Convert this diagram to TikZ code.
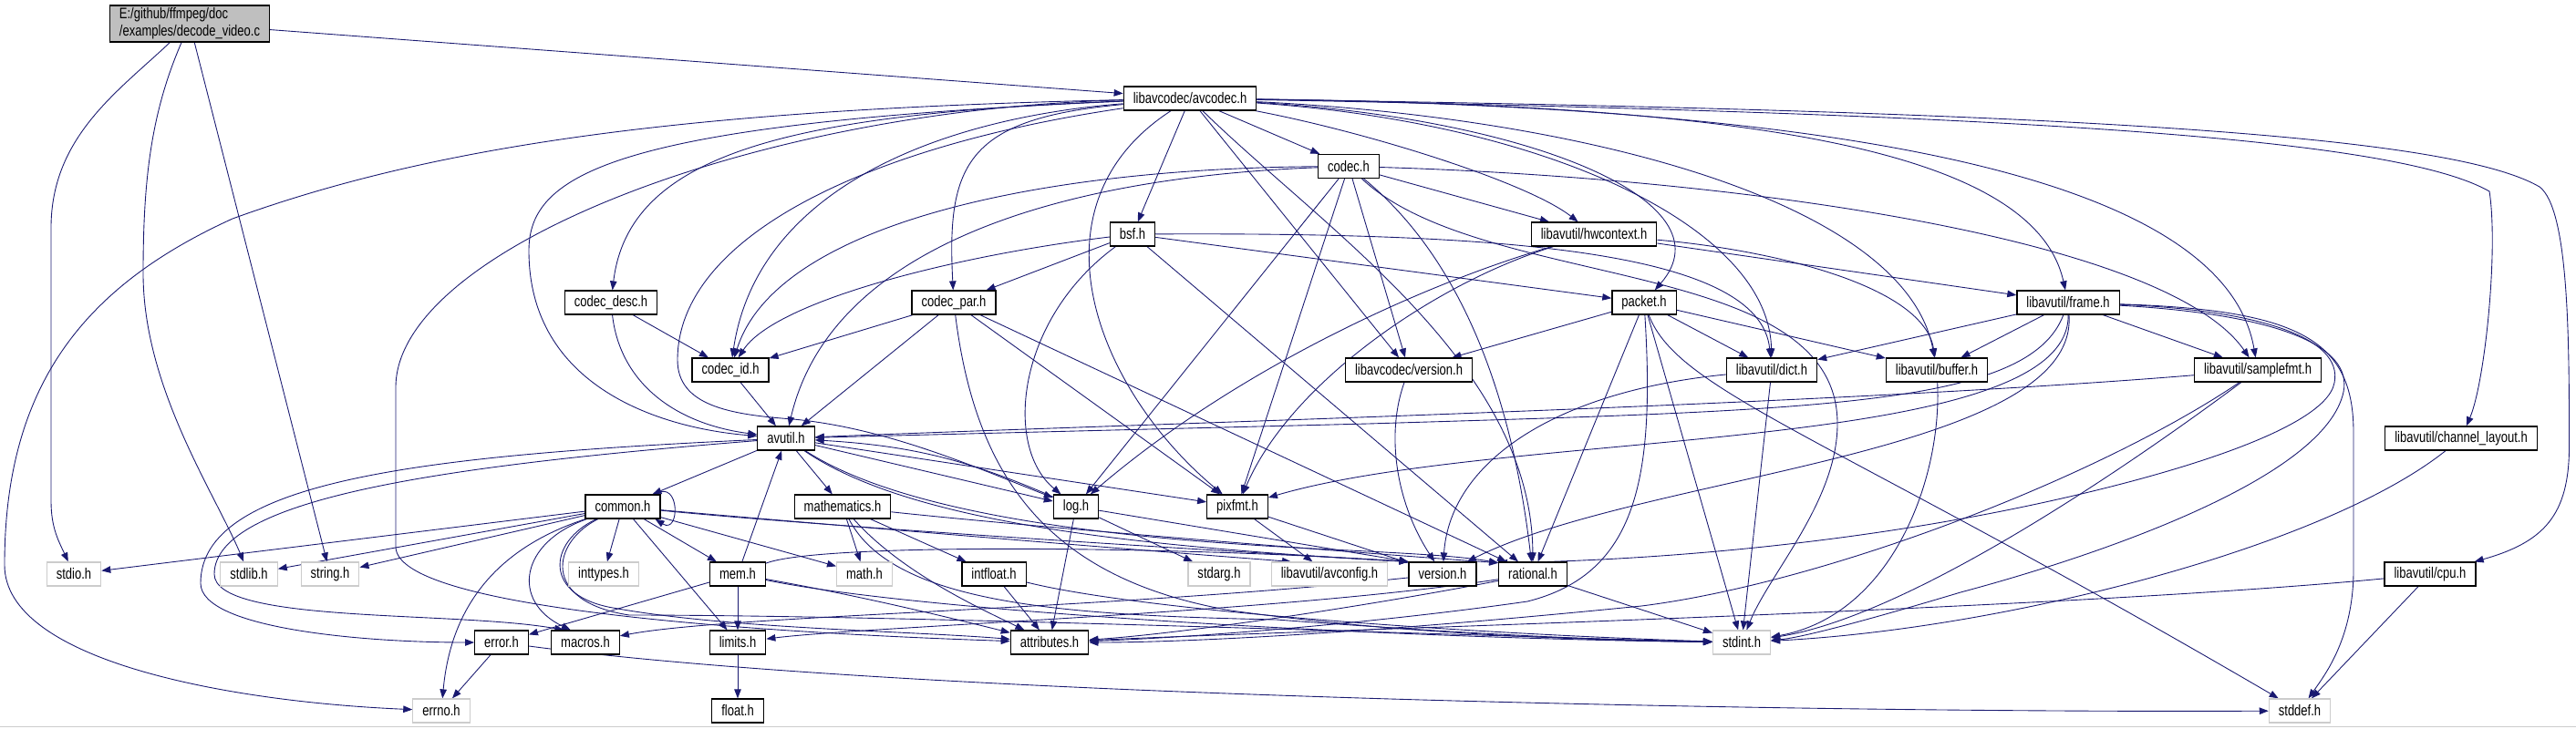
\documentclass[tikz,border=0pt]{standalone}
\usepackage{fontspec}
\newfontfamily\dotfont{Liberation Sans}[FakeStretch=0.78]
\usetikzlibrary{arrows.meta, backgrounds}
\definecolor{DoxEdge}{RGB}{25, 25, 112}
\definecolor{DoxGray}{RGB}{191, 191, 191}
\definecolor{DoxFrame}{RGB}{204, 204, 204}

\begin{document}
\begin{tikzpicture}[
    every node/.style={font=\dotfont\fontsize{9.5}{11}\selectfont},
    file/.style={rectangle, draw=black, fill=white, line width=0.7pt, inner xsep=0.21cm, inner ysep=0pt, minimum height=0.52cm},
    sysfile/.style={file, draw=DoxFrame},
    rootfile/.style={file, fill=DoxGray, align=left, minimum height=0.8cm},
    edge/.style={-{Triangle[length=0.2cm, width=0.15cm]}, draw=DoxEdge, line width=0.5pt}
  ]
    \useasboundingbox (0,0) rectangle (56.5,-15.98);

    % Source file
    \node[rootfile] (decode) at (4.16,-0.52) {E:/github/ffmpeg/doc\\/examples/decode\_video.c};

    % libavcodec headers
    \node[file] (avcodec) at (26.1,-2.16) {libavcodec/avcodec.h};
    \node[file] (codec) at (29.58,-3.65) {codec.h};
    \node[file] (bsf) at (24.84,-5.14) {bsf.h};
    \node[file] (hwctx) at (34.96,-5.14) {libavutil/hwcontext.h};
    \node[file] (codecdesc) at (13.4,-6.64) {codec\_desc.h};
    \node[file] (codecpar) at (20.92,-6.64) {codec\_par.h};
    \node[file] (packet) at (36.06,-6.64) {packet.h};
    \node[file] (frame) at (45.36,-6.64) {libavutil/frame.h};
    \node[file] (codecid) at (16.02,-8.12) {codec\_id.h};
    \node[file] (lavcver) at (30.9,-8.12) {libavcodec/version.h};
    \node[file] (dict) at (38.86,-8.12) {libavutil/dict.h};
    \node[file] (buffer) at (42.48,-8.12) {libavutil/buffer.h};
    \node[file] (samplefmt) at (49.52,-8.12) {libavutil/samplefmt.h};

    % libavutil headers
    \node[file] (avutil) at (17.24,-9.62) {avutil.h};
    \node[file] (chlayout) at (53.98,-9.62) {libavutil/channel\_layout.h};
    \node[file] (common) at (13.66,-11.12) {common.h};
    \node[file] (mathem) at (18.48,-11.12) {mathematics.h};
    \node[file] (log) at (23.6,-11.12) {log.h};
    \node[file] (pixfmt) at (27.14,-11.12) {pixfmt.h};
    \node[file] (mem) at (16.18,-12.6) {mem.h};
    \node[file] (intfloat) at (21.8,-12.6) {intfloat.h};
    \node[file] (version) at (31.64,-12.6) {version.h};
    \node[file] (rational) at (33.62,-12.6) {rational.h};
    \node[file] (cpu) at (53.3,-12.6) {libavutil/cpu.h};
    \node[file] (error) at (11.0,-14.1) {error.h};
    \node[file] (macros) at (12.84,-14.1) {macros.h};
    \node[file] (limits) at (16.18,-14.1) {limits.h};
    \node[file] (attrib) at (23.02,-14.1) {attributes.h};
    \node[file] (float) at (16.18,-15.6) {float.h};

    % System headers
    \node[sysfile] (stdio) at (1.62,-12.6) {stdio.h};
    \node[sysfile] (stdlib) at (5.46,-12.6) {stdlib.h};
    \node[sysfile] (string) at (7.24,-12.6) {string.h};
    \node[sysfile] (inttypes) at (13.24,-12.6) {inttypes.h};
    \node[sysfile] (math) at (18.96,-12.6) {math.h};
    \node[sysfile] (stdarg) at (26.74,-12.6) {stdarg.h};
    \node[sysfile] (avconfig) at (29.16,-12.6) {libavutil/avconfig.h};
    \node[sysfile] (stdint) at (38.2,-14.1) {stdint.h};
    \node[sysfile] (errno) at (9.68,-15.6) {errno.h};
    \node[sysfile] (stddef) at (50.44,-15.6) {stddef.h};

    \draw[DoxFrame] (0,-15.95) -- (56.5,-15.95);

    \begin{scope}[on background layer]
    % decode_video.c
    \draw[edge] (decode) -- (avcodec);
    \draw[edge] (decode) .. controls (2.6,-2.0) and (1.12,-3.0) .. (1.12,-5.0) -- (1.12,-11.0) .. controls (1.12,-11.6) and (1.3,-11.9) .. (stdio);
    \draw[edge] (decode) .. controls (3.3,-2.5) and (3.14,-4.0) .. (3.14,-6.0) .. controls (3.14,-8.5) and (4.7,-10.8) .. (stdlib);
    \draw[edge] (decode) -- (string);

    % avcodec.h
    \draw[edge] (avcodec) -- (codec);
    \draw[edge] (avcodec) -- (bsf);
    \draw[edge] (avcodec) -- (lavcver);
    \draw[edge] (avcodec) .. controls (30,-2.9) and (33.5,-4.0) .. (hwctx);
    \draw[edge] (avcodec) .. controls (17.5,-2.5) and (13.8,-3.3) .. (codecdesc);
    \draw[edge] (avcodec) .. controls (20.5,-2.6) and (16.6,-4.2) .. (codecid);
    \draw[edge] (avcodec) .. controls (21.2,-2.6) and (20.76,-3.6) .. (codecpar);
    \draw[edge] (avcodec) .. controls (13.5,-2.7) and (11.6,-3.8) .. (11.6,-5.5) .. controls (11.6,-8.5) and (14.5,-9.4) .. (avutil);
    \draw[edge] (avcodec) .. controls (16.5,-2.4) and (8.68,-5.5) .. (8.68,-8.5) -- (8.68,-12.0) .. controls (8.68,-13.4) and (17,-13.9) .. (attrib);
    \draw[edge] (avcodec) .. controls (15,-2.4) and (9.5,-3.2) .. (5.1,-4.8) .. controls (1.8,-6.3) and (0.1,-8.5) .. (0.1,-12.4) .. controls (0.1,-14.5) and (5,-15.4) .. (errno);
    \draw[edge] (avcodec) .. controls (19,-3.2) and (14.86,-5.2) .. (14.86,-7.9) .. controls (14.86,-8.9) and (16,-9.1) .. (17.4,-9.2) .. controls (19.5,-9.4) and (21.5,-10.3) .. (log);
    \draw[edge] (avcodec) .. controls (22.5,-4.5) and (24.0,-8.5) .. (pixfmt);
    \draw[edge] (avcodec) .. controls (29,-5) and (33.6,-8) .. (rational);
    \draw[edge] (avcodec) .. controls (33.5,-2.6) and (38.0,-4.4) .. (packet);
    \draw[edge] (avcodec) .. controls (34,-2.7) and (38.8,-5) .. (dict);
    \draw[edge] (avcodec) .. controls (35,-2.6) and (41.8,-4.5) .. (buffer);
    \draw[edge] (avcodec) .. controls (38,-2.3) and (44.6,-3.2) .. (frame);
    \draw[edge] (avcodec) .. controls (41,-2.35) and (48.8,-4.0) .. (samplefmt);
    \draw[edge] (avcodec) .. controls (44,-2.5) and (52.5,-3.0) .. (54.6,-4.2) .. controls (54.8,-5.5) and (54.5,-8.4) .. (chlayout);
    \draw[edge] (avcodec) .. controls (46,-2.45) and (53.8,-3.0) .. (55.7,-4.1) .. controls (56.35,-4.6) and (56.35,-7.5) .. (56.35,-9.8) .. controls (56.35,-11.3) and (55.8,-11.9) .. (cpu);

    % codec.h
    \draw[edge] (codec) -- (log);
    \draw[edge] (codec) -- (pixfmt);
    \draw[edge] (codec) -- (lavcver);
    \draw[edge] (codec) -- (hwctx);
    \draw[edge] (codec) .. controls (32.2,-5.8) and (33.2,-9) .. (rational);
    \draw[edge] (codec) .. controls (23,-3.9) and (18.2,-5.5) .. (avutil);
    \draw[edge] (codec) .. controls (22.5,-3.7) and (17.0,-5.0) .. (codecid);
    \draw[edge] (codec) .. controls (38,-3.9) and (47.5,-5.2) .. (samplefmt);
    \draw[edge] (codec) .. controls (32.5,-6.4) and (40.3,-5.6) .. (40.3,-9.3) .. controls (40.3,-11) and (38.8,-12.6) .. (stdint);

    % bsf.h
    \draw[edge] (bsf) -- (codecpar);
    \draw[edge] (bsf) -- (packet);
    \draw[edge] (bsf) -- (rational);
    \draw[edge] (bsf) .. controls (21,-5.6) and (17,-6.6) .. (codecid);
    \draw[edge] (bsf) .. controls (22.3,-7.0) and (22.0,-9.8) .. (log);
    \draw[edge] (bsf) .. controls (33,-5.1) and (38.6,-5.5) .. (dict);

    % hwcontext.h
    \draw[edge] (hwctx) -- (frame);
    \draw[edge] (hwctx) .. controls (39,-5.5) and (42.2,-6.3) .. (buffer);
    \draw[edge] (hwctx) .. controls (31,-6.3) and (27,-8.2) .. (log);
    \draw[edge] (hwctx) .. controls (31.5,-6.2) and (28.3,-8.4) .. (pixfmt);

    % codec_desc.h, codec_par.h, codec_id.h
    \draw[edge] (codecdesc) -- (codecid);
    \draw[edge] (codecdesc) .. controls (13.6,-8.4) and (14.8,-9.3) .. (avutil);
    \draw[edge] (codecpar) -- (codecid);
    \draw[edge] (codecpar) -- (avutil);
    \draw[edge] (codecpar) -- (pixfmt);
    \draw[edge] (codecpar) -- (rational);
    \draw[edge] (codecpar) .. controls (21.4,-10.5) and (23,-12.7) .. (27,-13.4) .. controls (31,-13.95) and (35,-14.05) .. (stdint);
    \draw[edge] (codecid) -- (avutil);

    % packet.h
    \draw[edge] (packet) -- (lavcver);
    \draw[edge] (packet) -- (dict);
    \draw[edge] (packet) -- (buffer);
    \draw[edge] (packet) -- (rational);
    \draw[edge] (packet) -- (stdint);
    \draw[edge] (packet) .. controls (36.8,-8.6) and (40,-9.5) .. (stddef);
    \draw[edge] (packet) .. controls (36.3,-10.5) and (35.9,-12.6) .. (33.5,-13.2) .. controls (30,-13.7) and (26,-14.0) .. (attrib);

    % frame.h
    \draw[edge] (frame) -- (dict);
    \draw[edge] (frame) -- (buffer);
    \draw[edge] (frame) -- (samplefmt);
    \draw[edge] (frame) .. controls (44.5,-8.9) and (40,-9.0) .. (30,-9.3) .. controls (24,-9.45) and (20,-9.55) .. (avutil);
    \draw[edge] (frame) .. controls (45.4,-10) and (33,-9.4) .. (pixfmt);
    \draw[edge] (frame) .. controls (45.6,-10.0) and (36,-10.4) .. (version);
    \draw[edge] (frame) .. controls (49.5,-6.8) and (51.4,-7.4) .. (51.2,-8.4) .. controls (51,-9.5) and (47,-10.6) .. (44,-11.2) .. controls (40,-12) and (36,-12.3) .. (rational.162);
    \draw[edge] (frame) .. controls (50,-6.9) and (51.6,-7.6) .. (51.4,-8.6) .. controls (51.0,-10.5) and (46,-12.2) .. (43,-13.0) .. controls (41,-13.6) and (39.5,-14.0) .. (stdint);
    \draw[edge] (frame) .. controls (50.5,-6.8) and (51.62,-7.5) .. (51.62,-9.5) -- (51.62,-12.5) .. controls (51.62,-14) and (51,-14.8) .. (stddef);

    % version.h, dict.h, buffer.h, samplefmt.h, channel_layout.h
    \draw[edge] (lavcver) .. controls (30.4,-9.5) and (30.6,-11) .. (version);
    \draw[edge] (dict) -- (stdint);
    \draw[edge] (dict) .. controls (34,-8.6) and (31.8,-10.2) .. (version);
    \draw[edge] (buffer) .. controls (42.6,-10.5) and (41.5,-13.5) .. (stdint);
    \draw[edge] (samplefmt) .. controls (40,-8.9) and (25,-9.3) .. (avutil);
    \draw[edge] (samplefmt) .. controls (47,-10) and (42,-13.5) .. (stdint);
    \draw[edge] (samplefmt) .. controls (46,-10.5) and (40,-12.8) .. (36,-13.3) .. controls (30,-13.9) and (26,-14.1) .. (attrib);
    \draw[edge] (chlayout) .. controls (51,-12) and (44,-13.8) .. (stdint);

    % avutil.h
    \draw[edge] (avutil) -- (common);
    \draw[edge] (avutil) -- (mathem);
    \draw[edge] (avutil) -- (log);
    \draw[edge] (avutil) -- (pixfmt);
    \draw[edge] (avutil) .. controls (20,-11.5) and (25,-12.0) .. (version.160);
    \draw[edge] (avutil) .. controls (20,-11.4) and (25,-11.85) .. (29,-12.05) .. controls (31,-12.15) and (32,-12.2) .. (rational.162);
    \draw[edge] (avutil) .. controls (9,-10.0) and (4.4,-10.6) .. (4.4,-12.8) .. controls (4.4,-13.8) and (8,-14.1) .. (error);
    \draw[edge] (avutil) .. controls (10,-10.2) and (4.7,-10.9) .. (4.7,-12.6) .. controls (4.7,-13.7) and (10,-13.4) .. (macros.150);

    % common.h
    \draw[edge] ([xshift=-0.12cm]common.north east) .. controls +(0.55,0.35) and +(0.55,-0.35) .. ([xshift=-0.12cm]common.south east);
    \draw[edge] (common) -- (stdio);
    \draw[edge] (common) -- (stdlib);
    \draw[edge] (common) -- (string);
    \draw[edge] (common) -- (inttypes);
    \draw[edge] (common) -- (mem);
    \draw[edge] (common) -- (math);
    \draw[edge] (common) -- (limits);
    \draw[edge] (common) .. controls (11.0,-12.0) and (9.9,-13.2) .. (errno);
    \draw[edge] (common) .. controls (11.4,-11.9) and (11.2,-13.2) .. (macros.140);
    \draw[edge] (common) .. controls (12.0,-11.9) and (11.9,-13.1) .. (13.5,-13.35) .. controls (16,-13.8) and (20,-13.85) .. (attrib);
    \draw[edge] (common) .. controls (12.1,-11.9) and (11.85,-13.2) .. (13.8,-13.5) .. controls (20,-13.5) and (32,-13.95) .. (stdint);
    \draw[edge] (common) .. controls (18,-11.55) and (26,-12.05) .. (version.160);
    \draw[edge] (common) .. controls (18,-11.5) and (24,-12.0) .. (avconfig.162);

    % mem.h
    \draw[edge] (mem) -- (avutil);
    \draw[edge] (mem) -- (limits);
    \draw[edge] (mem) -- (error);
    \draw[edge] (mem) .. controls (19,-13.1) and (21,-13.6) .. (attrib);
    \draw[edge] (mem) .. controls (20,-13.4) and (30,-14.0) .. (stdint);
    \draw[edge] (mem) .. controls (18,-11.9) and (26,-12.0) .. (version.160);

    % mathematics.h, log.h, pixfmt.h, intfloat.h
    \draw[edge] (mathem) -- (math);
    \draw[edge] (mathem) -- (intfloat);
    \draw[edge] (mathem) .. controls (19.8,-12.6) and (21.6,-13.4) .. (attrib);
    \draw[edge] (mathem) .. controls (22,-11.5) and (28,-12.0) .. (rational.162);
    \draw[edge] (mathem) .. controls (19.6,-13.3) and (23.5,-13.5) .. (28,-13.6) .. controls (32,-13.9) and (35,-14.05) .. (stdint);
    \draw[edge] (log) -- (stdarg);
    \draw[edge] (log) -- (attrib);
    \draw[edge] (log) -- (version.160);
    \draw[edge] (log) to[bend right=10] (avutil);
    \draw[edge] (pixfmt) -- (avconfig);
    \draw[edge] (pixfmt) -- (version);
    \draw[edge] (intfloat) -- (attrib);
    \draw[edge] (intfloat) .. controls (25,-13.4) and (32,-13.9) .. (stdint);

    % version.h, rational.h, error.h, limits.h, cpu.h
    \draw[edge] (version) .. controls (24,-13.4) and (16,-13.5) .. (macros);
    \draw[edge] (rational) -- (stdint);
    \draw[edge] (rational) .. controls (30,-13.3) and (26,-13.9) .. (attrib);
    \draw[edge] (rational) .. controls (28,-13.45) and (19,-13.75) .. (limits);
    \draw[edge] (error) -- (errno);
    \draw[edge] (error) .. controls (20,-15.3) and (40,-15.65) .. (stddef);
    \draw[edge] (limits) -- (float);
    \draw[edge] (cpu) -- (stddef);
    \draw[edge] (cpu) .. controls (45,-13.4) and (28,-13.85) .. (attrib);
    \end{scope}
\end{tikzpicture}
\end{document}
